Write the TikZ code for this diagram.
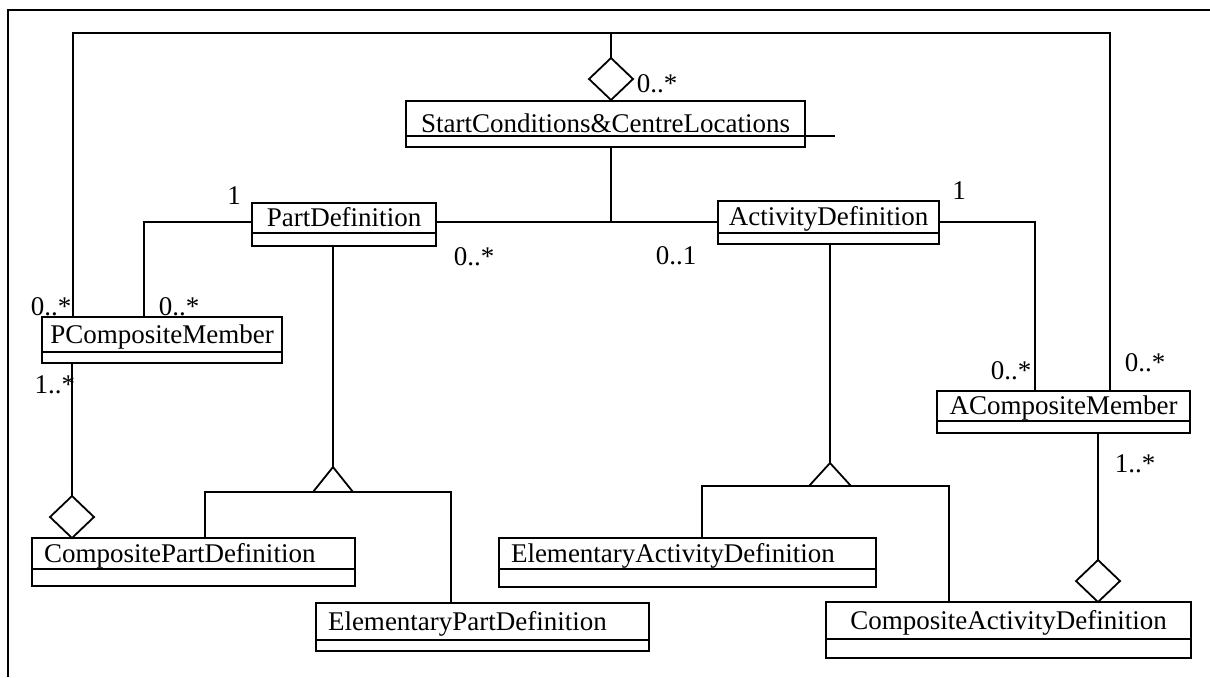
\documentclass[tikz,border=0pt]{standalone}
\usepackage{fontspec}
\setmainfont{Liberation Serif}
\usetikzlibrary{shapes.geometric}

\def \lineWidth {0.9pt}
\def \diaW {22pt}
\def \diaH {21pt}

\tikzset{
  cls/.style={draw, anchor=north west, inner xsep=0pt, inner ysep=0pt, outer sep=0pt, text width=#1, align=center, text height=8.9pt, text depth=0pt},
  lcls/.style={draw, anchor=north west, inner xsep=6pt, inner ysep=0pt, outer sep=0pt, text width=#1, align=left, text height=8.9pt, text depth=0pt},
  ops/.style={draw, anchor=north west, inner sep=0pt, outer sep=0pt, minimum width=#1},
  agg/.style={draw, diamond, aspect=1, inner sep=0pt, outer sep=0pt, minimum width=\diaW, minimum height=\diaH, anchor=south},
  mult/.style={inner sep=0pt}
}

\begin{document}
\begin{tikzpicture}[x=0.5pt, y=-0.5pt, line width=\lineWidth, font=\fontsize{13.5}{16}\selectfont]
      \useasboundingbox (0,0) rectangle (1210,677);
      \draw (8,677) -- (8,10) -- (1210,10);

      \node[cls=199.5pt, minimum height=17.5pt, text height=13.9pt] (scl) at (406,101) {StartConditions\&CentreLocations};
      \node[ops=199.5pt, minimum height=5.5pt] (scl-ops) at (scl.south west) {};
      \draw (scl.south east) -- ++(30,0);
      \node[cls=92pt, minimum height=15pt] (pd) at (252,203) {PartDefinition};
      \node[ops=92pt, minimum height=6.5pt] (pd-ops) at (pd.south west) {};
      \node[cls=110.5pt, minimum height=16pt] (ad) at (718,201) {ActivityDefinition};
      \node[ops=110.5pt, minimum height=5.5pt] (ad-ops) at (ad.south west) {};
      \node[cls=120pt, minimum height=17.5pt] (pcm) at (42,317) {PCompositeMember};
      \node[ops=120pt, minimum height=5.5pt] (pcm-ops) at (pcm.south west) {};
      \node[cls=126.5pt, minimum height=15pt] (acm) at (937,391) {ACompositeMember};
      \node[ops=126.5pt, minimum height=6pt] (acm-ops) at (acm.south west) {};
      \node[lcls=149.5pt, minimum height=15.5pt] (cpd) at (32,538) {CompositePartDefinition};
      \node[ops=161.5pt, minimum height=8.5pt] (cpd-ops) at (cpd.south west) {};
      \node[lcls=154.5pt, minimum height=18.5pt] (epd) at (316,603) {ElementaryPartDefinition};
      \node[ops=166.5pt, minimum height=5.5pt] (epd-ops) at (epd.south west) {};
      \node[lcls=176.5pt, minimum height=15.5pt] (ead) at (499,538) {ElementaryActivityDefinition};
      \node[ops=188.5pt, minimum height=9pt] (ead-ops) at (ead.south west) {};
      \node[cls=182.5pt, minimum height=18.5pt] (cad) at (826,602) {CompositeActivityDefinition};
      \node[ops=182.5pt, minimum height=9.5pt] (cad-ops) at (cad.south west) {};

      \node[agg] (agg-scl) at (611,100) {};
      \node[agg] (agg-cpd) at (72,538) {};
      \node[agg] (agg-cad) at (1098,602) {};

      \coordinate (loop) at (611,33);
      \draw ([xshift=15.5pt]pcm.north west) |- (loop) -| ([xshift=86.5pt]acm.north west);
      \draw (loop) -- (agg-scl.north);

      \coordinate (assoc) at (611,222);
      \draw (scl-ops.south -| assoc) -- (assoc);
      \draw (pd.east |- assoc) -- (ad.west |- assoc);
      \draw (pd.west |- assoc) -| ([xshift=51pt]pcm.north west);
      \draw (ad.east |- assoc) -| ([xshift=49pt]acm.north west);
      \draw ([xshift=15pt]pcm-ops.south west) -- (agg-cpd.north);
      \draw ([xshift=80.5pt]acm-ops.south west) -- (agg-cad.north);

      \coordinate (gen-pd) at (333,467);
      \coordinate (gen-pd-base) at (333,492);
      \draw (pd-ops.south -| gen-pd) -- (gen-pd);
      \draw (gen-pd) -- ++(-20,25) -- ++(40,0) -- cycle;
      \draw ([xshift=86.5pt]cpd.north west) |- (gen-pd-base) -| ([xshift=67.5pt]epd.north west);

      \coordinate (gen-ad) at (830,463);
      \coordinate (gen-ad-base) at (830,486);
      \draw (ad-ops.south -| gen-ad) -- (gen-ad);
      \draw (gen-ad) -- ++(-21,23) -- ++(42,0) -- cycle;
      \draw ([xshift=101.5pt]ead.north west) |- (gen-ad-base) -| ([xshift=61.5pt]cad.north west);

      \node[mult] (m-scl) at (657,84) {0..*};
      \node[mult] (m-pd-one) at (234,196) {1};
      \node[mult] (m-pd) at (474,257) {0..*};
      \node[mult] (m-ad) at (676,256) {0..1};
      \node[mult] (m-ad-one) at (959,191) {1};
      \node[mult] (m-pcm-loop) at (51,307) {0..*};
      \node[mult] (m-pcm) at (179,307) {0..*};
      \node[mult] (m-pcm-cpd) at (55,385) {1..*};
      \node[mult] (m-acm) at (1011,371) {0..*};
      \node[mult] (m-acm-loop) at (1145,363) {0..*};
      \node[mult] (m-acm-cad) at (1135,464) {1..*};
\end{tikzpicture}
\end{document}
